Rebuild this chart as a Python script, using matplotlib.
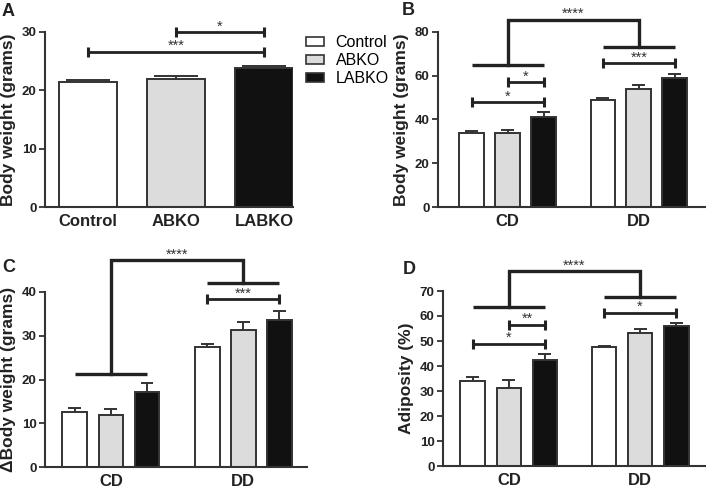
import matplotlib
matplotlib.use("Agg")
import matplotlib.pyplot as plt
from matplotlib.patches import Patch
import numpy as np

plt.rcParams['font.family'] = ['Liberation Sans', 'DejaVu Sans']

# ---------------- data ----------------
genotypes = ["Control", "ABKO", "LABKO"]
diets = ["CD", "DD"]

a_vals = [21.4, 22.0, 23.9]
a_err = [0.3, 0.5, 0.2]
a_sig = [(1, 2, 30.0, "*"), (0, 2, 26.6, "***")]

b_cd = [33.8, 33.6, 41.0]
b_cd_err = [0.9, 1.7, 2.3]
b_dd = [49.1, 53.8, 59.0]
b_dd_err = [0.7, 2.0, 1.7]
b_sig_cd = [(1, 2, 57.0, "*"), (0, 2, 47.9, "*")]
b_sig_dd = [(0, 2, 65.6, "***")]
b_group = (64.7, 73.2, 85.6, "****")

c_cd = [12.6, 12.0, 17.2]
c_cd_err = [0.9, 1.2, 2.0]
c_dd = [27.5, 31.4, 33.7]
c_dd_err = [0.6, 1.8, 1.9]
c_sig_cd = []
c_sig_dd = [(0, 2, 38.4, "***")]
c_group = (21.3, 42.1, 47.3, "****")

d_cd = [34.0, 31.1, 42.4]
d_cd_err = [1.7, 3.4, 2.3]
d_dd = [47.5, 53.3, 56.1]
d_dd_err = [0.6, 1.4, 1.0]
d_sig_cd = [(1, 2, 56.5, "**"), (0, 2, 48.9, "*")]
d_sig_dd = [(0, 2, 61.3, "*")]
d_group = (63.5, 67.6, 78.0, "****")

fills = ["#ffffff", "#dcdcdc", "#111111"]
edge = "#333333"
dark = "#222222"

W, H = 706, 494
fig = plt.figure(figsize=(W / 100, H / 100), dpi=100)


def rect(l, r, bot, top):
    return [l / W, 1 - bot / H, (r - l) / W, (bot - top) / H]


def style(ax, ylim, yticks, ylabel):
    ax.set_ylim(*ylim)
    ax.set_yticks(yticks)
    for s in ["top", "right"]:
        ax.spines[s].set_visible(False)
    for s in ["left", "bottom"]:
        ax.spines[s].set_color(edge)
        ax.spines[s].set_linewidth(1.5)
    ax.tick_params(axis='y', length=4, width=1.3, color=edge, labelsize=9.5, pad=2)
    ax.tick_params(axis='x', length=0, labelsize=12, pad=5)
    for lab in ax.get_yticklabels() + ax.get_xticklabels():
        lab.set_fontweight('bold')
        lab.set_color(dark)
    ax.set_ylabel(ylabel, fontsize=12.5, fontweight='bold', color=dark, labelpad=4)


def bars(ax, xs, vals, errs, width, caphalf):
    for x, v, e, c in zip(xs, vals, errs, fills):
        ax.bar(x, v, width, color=c, edgecolor=edge, linewidth=1.4, zorder=2)
        ax.vlines(x, v, v + e, color=edge, lw=1.4, zorder=3)
        ax.hlines(v + e, x - caphalf, x + caphalf, color=edge, lw=1.4, zorder=3)


def stars(ax, x, y, s):
    ax.annotate(s, (x, y), xytext=(0, 1.2), textcoords='offset points',
                ha='center', va='baseline', fontsize=10.5, color="#333333",
                annotation_clip=False)


def sig(ax, x1, x2, y, s):
    ax.plot([x1, x2], [y, y], color=dark, lw=2.0, marker='|', ms=7.5, mew=2.2,
            clip_on=False, zorder=4, solid_capstyle='butt')
    stars(ax, (x1 + x2) / 2, y, s)


def group_bracket(ax, c1, c2, g):
    y1, y2, ytop, s = g
    ax.plot([c1 - 1, c1 + 1], [y1, y1], color=dark, lw=2.4, clip_on=False, solid_capstyle='butt')
    ax.plot([c2 - 1, c2 + 1], [y2, y2], color=dark, lw=2.4, clip_on=False, solid_capstyle='butt')
    ax.plot([c1, c1, c2, c2], [y1, ytop, ytop, y2], color=dark, lw=2.4, clip_on=False,
            solid_joinstyle='miter')
    stars(ax, (c1 + c2) / 2, ytop, s)


def grouped(ax, gap, cd, cde, dd, dde, sig_cd, sig_dd, g, xlim):
    centers = [0, gap]
    bars(ax, [centers[0] + i - 1 for i in range(3)], cd, cde, 0.69, 0.18)
    bars(ax, [centers[1] + i - 1 for i in range(3)], dd, dde, 0.69, 0.18)
    for i, j, y, s in sig_cd:
        sig(ax, centers[0] + i - 1, centers[0] + j - 1, y, s)
    for i, j, y, s in sig_dd:
        sig(ax, centers[1] + i - 1, centers[1] + j - 1, y, s)
    group_bracket(ax, centers[0], centers[1], g)
    ax.set_xticks(centers)
    ax.set_xticklabels(diets)
    ax.set_xlim(*xlim)


# ---- Panel A ----
axA = fig.add_axes(rect(45, 293, 207, 32))
xa = np.arange(len(genotypes))
bars(axA, xa, a_vals, a_err, 0.66, 0.25)
for i, j, y, s in a_sig:
    sig(axA, xa[i], xa[j], y, s)
axA.set_xticks(xa)
axA.set_xticklabels(genotypes)
axA.set_xlim(-0.49, 2.33)
style(axA, (0, 30), [0, 10, 20, 30], "Body weight (grams)")

# ---- Panel B ----
axB = fig.add_axes(rect(438, 705, 207, 32))
grouped(axB, 3.65, b_cd, b_cd_err, b_dd, b_dd_err, b_sig_cd, b_sig_dd, b_group, (-1.94, 5.49))
style(axB, (0, 80), [0, 20, 40, 60, 80], "Body weight (grams)")

# ---- Panel C ----
axC = fig.add_axes(rect(45, 307, 467, 292))
grouped(axC, 3.67, c_cd, c_cd_err, c_dd, c_dd_err, c_sig_cd, c_sig_dd, c_group, (-1.83, 5.44))
style(axC, (0, 40), [0, 10, 20, 30, 40], "ΔBody weight (grams)")

# ---- Panel D ----
axD = fig.add_axes(rect(443, 706, 466, 291))
grouped(axD, 3.64, d_cd, d_cd_err, d_dd, d_dd_err, d_sig_cd, d_sig_dd, d_group, (-1.83, 5.47))
style(axD, (0, 70), list(range(0, 71, 10)), "Adiposity (%)")

# ---- panel letters ----
for (x, y, t) in [(2, 3, "A"), (402, 2, "B"), (2, 259, "C"), (403, 261, "D")]:
    fig.text(x / W, 1 - y / H, t, ha='left', va='top', fontsize=13, fontweight='bold', color=dark)

# ---- legend ----
handles = [Patch(facecolor=c, edgecolor=edge, linewidth=1.2) for c in fills]
fig.legend(handles, genotypes, loc='upper left', bbox_to_anchor=(306 / W, 1 - 35 / H),
           frameon=False, fontsize=11.5, handlelength=1.15, handleheight=0.5,
           handletextpad=0.7, labelspacing=0.2, borderpad=0, borderaxespad=0)

fig.savefig("out.png", dpi=100)
